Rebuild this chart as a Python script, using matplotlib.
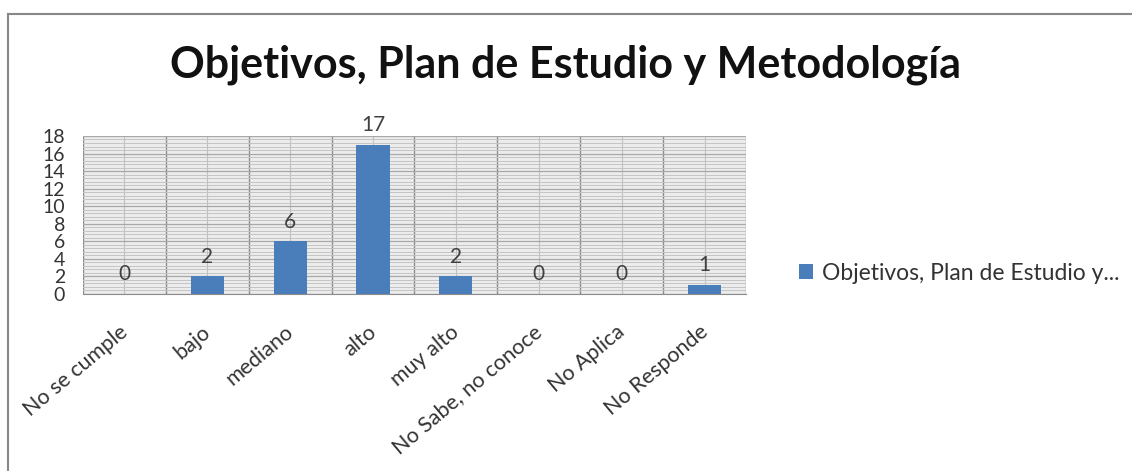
import numpy as np
import matplotlib.pyplot as plt
from matplotlib.lines import Line2D
from matplotlib.ticker import MultipleLocator
from matplotlib.transforms import ScaledTranslation

# Respuestas por nivel
categorias = ["No se cumple", "bajo", "mediano", "alto", "muy alto",
              "No Sabe, no conoce", "No Aplica", "No Responde"]
valores = [0, 2, 6, 17, 2, 0, 0, 1]
titulo = "Objetivos, Plan de Estudio y Metodología"
serie = "Objetivos, Plan de Estudio y..."

plt.rcParams['font.family'] = ['Lato', 'DejaVu Sans']

fig = plt.figure(figsize=(11.32, 4.71), dpi=100)
ax = fig.add_axes([0.0733, 0.3758, 0.5857, 0.3355])

x = np.arange(len(categorias))
barras = ax.bar(x, valores, width=0.4, color='#4a7ebb', zorder=3, label=serie)

ax.set_xlim(-0.5, len(categorias) - 0.5)
ax.set_ylim(0, 18)
ax.set_facecolor('#ececec')

# rejilla: horizontales menores densas, verticales en los limites de categoria
ax.yaxis.set_major_locator(MultipleLocator(2))
ax.yaxis.set_minor_locator(MultipleLocator(0.4))
ax.set_xticks(x)
ax.set_xticks(np.arange(len(categorias) + 1) - 0.5, minor=True)
ax.grid(which='minor', axis='y', color='#c4c4c4', lw=0.7, zorder=0)
ax.grid(which='major', axis='y', color='#a8a8a8', lw=0.9, zorder=1)
ax.grid(which='major', axis='x', color='#c0c0c0', lw=0.8, zorder=1)
ax.grid(which='minor', axis='x', color='#8c8c8c', lw=1.0, zorder=1)

for s in ax.spines.values():
    s.set_visible(False)
ax.spines['bottom'].set_visible(True)
ax.spines['bottom'].set_color('#8c8c8c')

ax.tick_params(axis='y', which='both', length=0, labelsize=14, pad=13, labelcolor='#333333')
ax.tick_params(axis='x', which='both', length=0, pad=2)
ax.set_xticklabels(categorias, rotation=40, ha='right', rotation_mode='anchor',
                   fontsize=15.5, color='#333333')
desplaza = ScaledTranslation(-4 / 72, -18 / 72, fig.dpi_scale_trans)
for lbl in ax.get_xticklabels():
    lbl.set_transform(lbl.get_transform() + desplaza)

for xi, v in zip(x, valores):
    ax.annotate(str(v), (xi, v), xytext=(0, 7), textcoords='offset points',
                ha='center', va='bottom', fontsize=15, color='#404040')

fig.suptitle(titulo, x=0.5, y=0.905, fontsize=31, fontweight='bold', color='#111111')

fig.legend(handles=[barras], labels=[serie], loc='center left',
           bbox_to_anchor=(0.688, 0.42), frameon=False, fontsize=16.5,
           handlelength=0.6, handleheight=0.6, handletextpad=0.4,
           labelcolor='#333333')

# marco del grafico
fig.add_artist(Line2D([0.007, 1.0], [0.970, 0.970], color='#888888', lw=1.5))
fig.add_artist(Line2D([0.007, 0.007], [0.0, 0.970], color='#888888', lw=1.5))

fig.savefig('out.png', dpi=100)
